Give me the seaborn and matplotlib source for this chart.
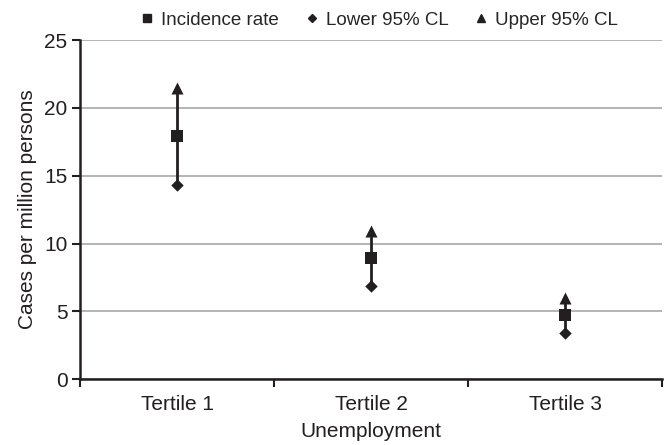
import matplotlib
matplotlib.use("Agg")
import matplotlib.pyplot as plt
import seaborn as sns
import pandas as pd
import numpy as np
from matplotlib.lines import Line2D

categories = ["Tertile 1", "Tertile 2", "Tertile 3"]
incidence = [17.9, 8.9, 4.7]
lower_cl = [14.3, 6.85, 3.4]
upper_cl = [21.5, 10.9, 5.95]
series_names = ["Incidence rate", "Lower 95% CL", "Upper 95% CL"]
y_ticks = [0, 5, 10, 15, 20, 25]

sns.set_theme(style="white")
plt.rcParams["font.family"] = ["Liberation Sans", "DejaVu Sans"]

df = pd.DataFrame({
    "Unemployment": categories * 3,
    "value": incidence + lower_cl + upper_cl,
    "series": [s for s in series_names for _ in categories],
})
df["pos"] = df["Unemployment"].map({c: i for i, c in enumerate(categories)})

fig = plt.figure(figsize=(6.67, 4.45), dpi=100)
ax = fig.add_axes([0.12, 0.148, 0.8725, 0.762])

ink = "#231f20"
pos = np.arange(len(categories))
ax.vlines(pos, lower_cl, upper_cl, color=ink, linewidth=2, zorder=2)

markers = {"Incidence rate": "s", "Lower 95% CL": "D", "Upper 95% CL": "^"}
sizes = {"Incidence rate": 70, "Lower 95% CL": 40, "Upper 95% CL": 75}
for s in series_names:
    sub = df[df["series"] == s]
    sns.scatterplot(data=sub, x="pos", y="value", marker=markers[s], s=sizes[s],
                    color=ink, edgecolor=ink, linewidth=0, ax=ax, zorder=3, legend=False)

fs = 15
ax.set_xlim(-0.5, len(categories) - 0.5)
ax.set_ylim(0, 25)
ax.set_yticks(y_ticks)
ax.set_yticklabels([str(t) for t in y_ticks], fontsize=fs, color=ink)
ax.set_xticks(pos)
ax.set_xticklabels(categories, fontsize=fs, color=ink)
ax.tick_params(axis="x", length=0, pad=11.5)
ax.tick_params(axis="y", length=6, width=1.5, color=ink, direction="out", left=True, pad=3)
ax.set_xticks(np.arange(-0.5, len(categories)), minor=True)
ax.tick_params(axis="x", which="minor", length=6, width=1.5, color=ink, direction="out", bottom=True)

ax.yaxis.grid(True, color="#a8a8a8", linewidth=1.2)
ax.xaxis.grid(False)
ax.set_axisbelow(True)
for side in ["top", "right"]:
    ax.spines[side].set_visible(False)
for side in ["left", "bottom"]:
    ax.spines[side].set_color(ink)
    ax.spines[side].set_linewidth(1.8)

ax.set_xlabel("Unemployment", fontsize=fs, color=ink, labelpad=6)
ax.set_ylabel("Cases per million persons", fontsize=fs, color=ink, labelpad=5)

handles = [Line2D([], [], linestyle="none", marker=markers[s], color=ink,
                  markersize={"Incidence rate": 6, "Lower 95% CL": 4.5, "Upper 95% CL": 6}[s])
           for s in series_names]
ax.legend(handles, series_names, loc="lower center", bbox_to_anchor=(0.515, 1.0), ncol=3,
          frameon=False, fontsize=13.5, handlelength=0.6, handletextpad=0.45,
          columnspacing=1.45, borderaxespad=0.2)

fig.savefig("out.png", dpi=100)
